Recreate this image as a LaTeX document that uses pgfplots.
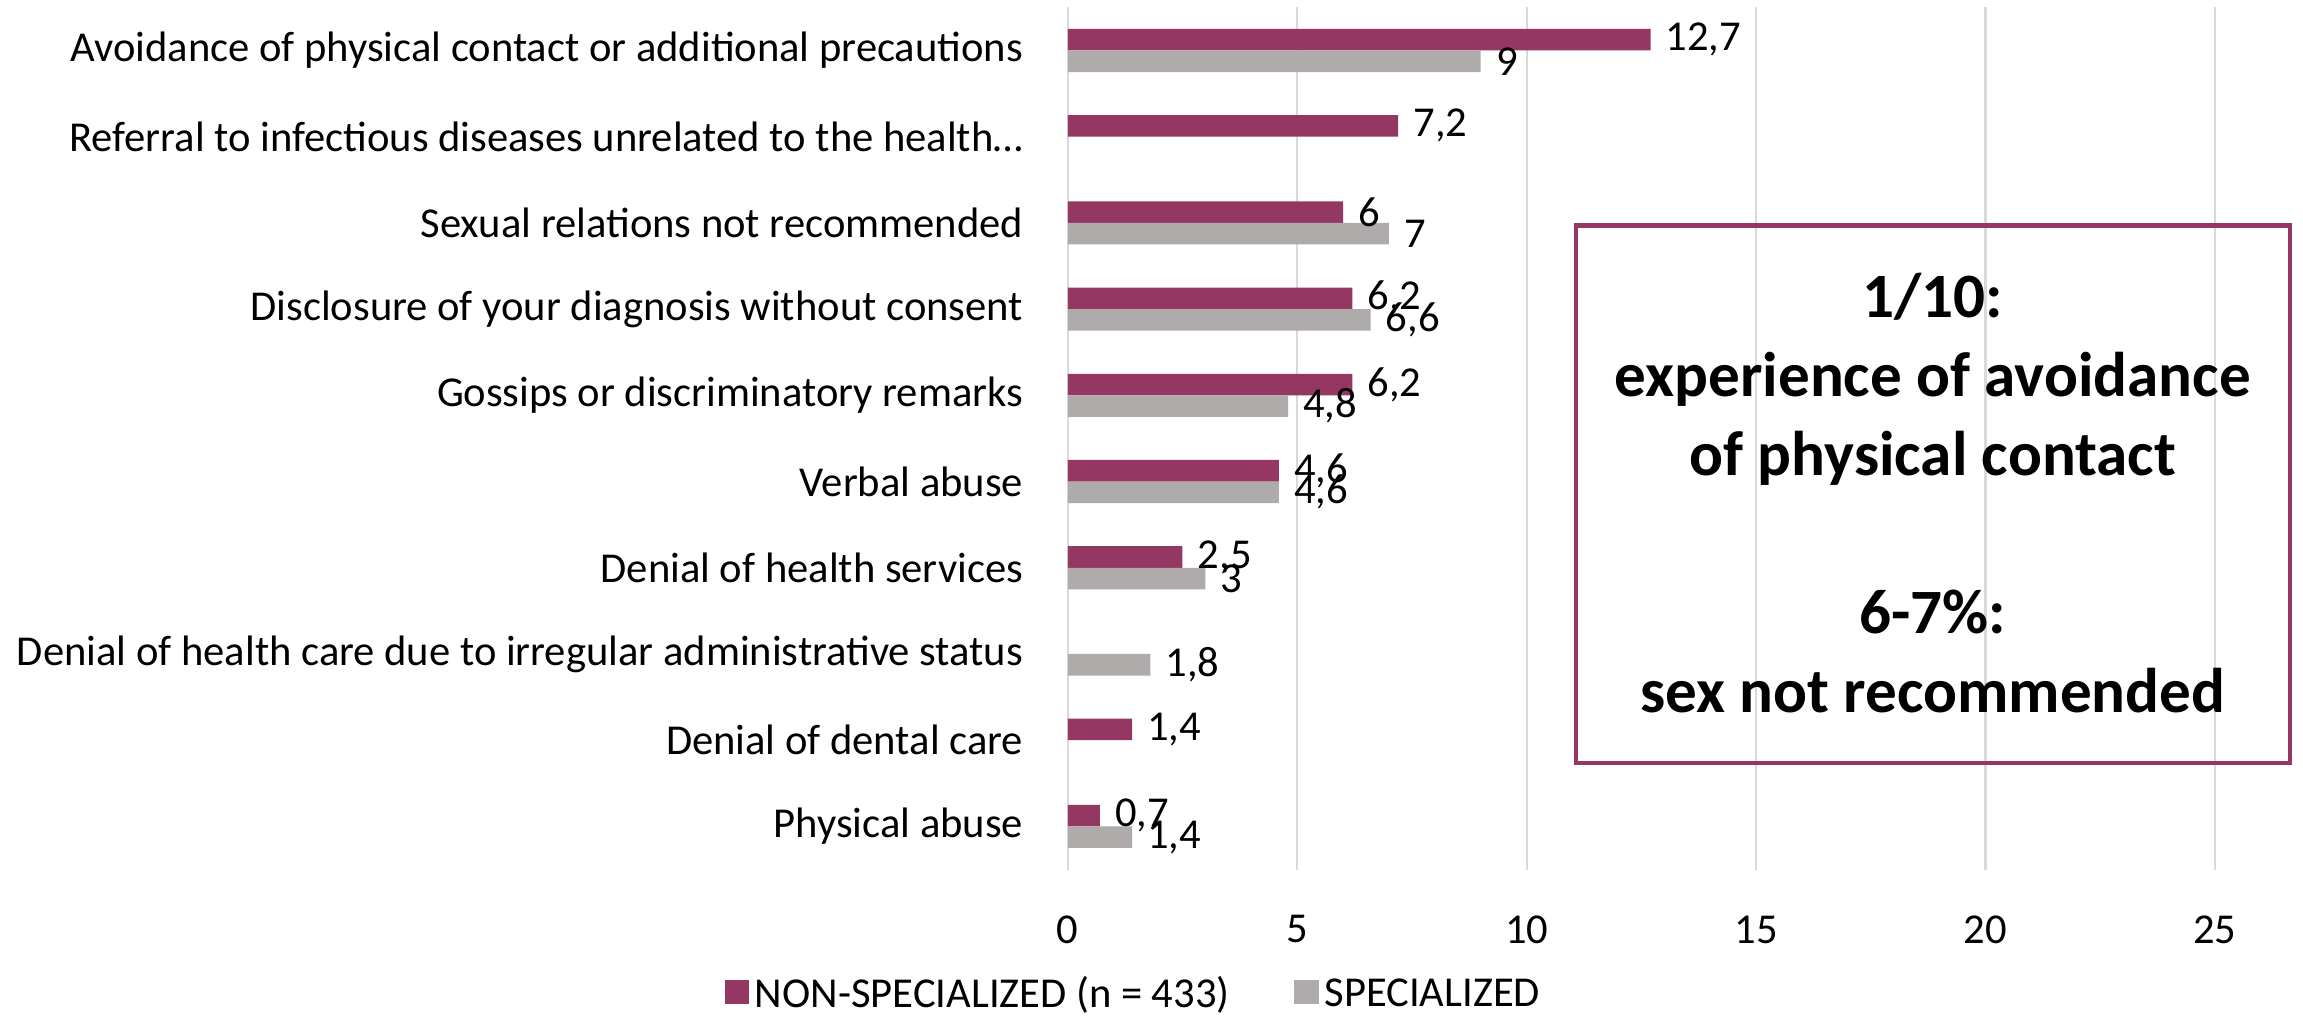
\documentclass[border=0pt]{standalone}
\usepackage{pgfplots}
\pgfplotsset{compat=1.18}
\usepackage{fontspec}
\setmainfont{Carlito}
\definecolor{maroon}{RGB}{148,56,99}
\definecolor{sgray}{RGB}{175,171,171}
\definecolor{gridgray}{RGB}{217,217,217}
\newcommand{\lblfont}{\fontsize{14.5}{17}\selectfont}
\begin{document}
\begin{tikzpicture}[x=1pt,y=1pt]
\path[use as bounding box] (0,0) rectangle (784,346.5);
\begin{axis}[
  at={(363.5pt,50.5pt)}, anchor=south west,
  scale only axis, width=390.5pt, height=293.5pt,
  xmin=0, xmax=25, ymin=-0.5, ymax=9.5, y dir=reverse,
  xbar, bar width=0.25,
  axis line style={draw=none},
  xtick={0,5,10,15,20,25}, ytick={0,1,2,3,4,5,6,7,8,9},
  yticklabels={
    Avoidance of physical contact or additional precautions,
    Referral to infectious diseases unrelated to the health…,
    Sexual relations not recommended,
    Disclosure of your diagnosis without consent,
    Gossips or discriminatory remarks,
    Verbal abuse,
    Denial of health services,
    Denial of health care due to irregular administrative status,
    Denial of dental care,
    Physical abuse},
  major tick length=0pt,
  xmajorgrids, grid style={gridgray, line width=0.75pt},
  /pgf/number format/assume math mode=true,
  xticklabel style={font=\lblfont, anchor=north, inner sep=0pt, yshift=-15.5pt},
  yticklabel style={font=\lblfont, anchor=east, inner sep=0pt, xshift=-15pt},
  clip=false,
  point meta=explicit symbolic,
  nodes near coords,
  every node near coord/.append style={font=\lblfont, anchor=west, inner sep=0pt, xshift=5pt, text=black},
  legend style={at={(0.0589,-0.145)}, anchor=center, draw=none, fill=none,
    legend columns=2, font=\lblfont,
    /tikz/every even column/.append style={column sep=20pt},
    legend cell align=left},
  legend image code/.code={\fill[#1,draw=none] (0pt,-3.3pt) rectangle (8.3pt,5pt);},
]
\addplot[fill=maroon, draw=none, bar shift=-0.125] table[meta=l] {
x y l
12.7 0 {12,7}
7.2 1 {7,2}
6 2 {6}
6.2 3 {6,2}
6.2 4 {6,2}
4.6 5 {4,6}
2.5 6 {2,5}
1.4 8 {1,4}
0.7 9 {0,7}
};
\addlegendentry{NON-SPECIALIZED (n = 433)}
\addplot[fill=sgray, draw=none, bar shift=0.125] table[meta=l] {
x y l
9 0 {9}
7 2 {7}
6.6 3 {6,6}
4.8 4 {4,8}
4.6 5 {4,6}
3 6 {3}
1.8 7 {1,8}
1.4 9 {1,4}
};
\addlegendentry{SPECIALIZED}
\end{axis}
\node[draw=maroon, line width=1.5pt, minimum width=243pt, minimum height=183pt, inner sep=0pt] at (658,178.25) {};
\node[align=center, font=\bfseries\fontsize{21.5}{26.9}\selectfont, inner sep=0pt] at (658,178.75)
  {1/10:\\experience of avoidance\\of physical contact\\[26.9pt]6-7\%:\\sex not recommended};
\end{tikzpicture}
\end{document}
